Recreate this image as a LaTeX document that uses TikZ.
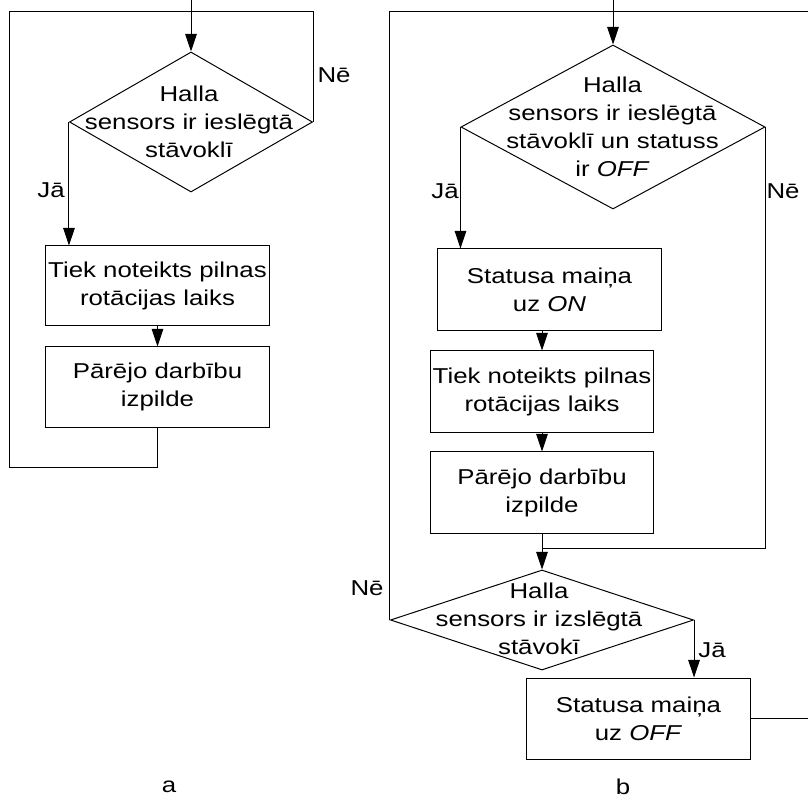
\documentclass[tikz,border=0pt]{standalone}
\usepackage{fontspec}
\setmainfont{Liberation Sans}[FakeStretch=1.2]
\usetikzlibrary{shapes.geometric,arrows.meta}

\begin{document}
\begin{tikzpicture}[x=0.025cm,y=-0.025cm,line width=0.7pt,
  every node/.style={font=\fontsize{15.3}{20}\selectfont},
  block/.style={draw,rectangle,minimum width=5.575cm,minimum height=2.025cm,align=center,inner sep=0pt},
  decision/.style={draw,diamond,inner sep=0pt},
  dtext/.style={align=center,inner sep=0pt},
  caption/.style={inner sep=1pt},
  arr/.style={-{Triangle[length=4.4mm,width=2.9mm]}}]

  \useasboundingbox (0,0) rectangle (808,800);

  % Scheme a
  \node[decision,minimum width=6.075cm,minimum height=3.5cm] (da) at (191,122) {};
  \node[dtext] (da-t) at (189,122) {Halla\\sensors ir ieslēgtā\\stāvoklī};
  \node[block,minimum height=1.975cm] (a1) at (157.5,285.5) {Tiek noteikts pilnas\\rotācijas laiks};
  \node[block,minimum height=2cm] (a2) at (157.5,387) {Pārējo darbību\\izpilde};
  \coordinate (a-in) at (191,0);

  \draw[arr] (a-in) -- (da.north);
  \draw[arr] (da.west) -- (da.west |- a1.north);
  \draw[arr] (a1.south) -- (a2.north);
  \draw (a2.south) -- ++(0,40) -| (9,11) -| (da.east);

  \node (a-ne) at (334,75) {Nē};
  \node (a-ja) at (51,190) {Jā};
  \node[caption] (a-cap) at (169,787) {a};

  % Scheme b
  \node[decision,minimum width=7.6cm,minimum height=4.1cm] (db1) at (613,127) {};
  \node[dtext] (db1-t) at (612.5,127) {Halla\\sensors ir ieslēgtā\\stāvoklī un statuss\\ir \textit{OFF}};
  \node[block] (b1) at (549.5,289.5) {Statusa maiņa\\uz \textit{ON}};
  \node[block] (b2) at (542,391.5) {Tiek noteikts pilnas\\rotācijas laiks};
  \node[block] (b3) at (542,492.5) {Pārējo darbību\\izpilde};
  \node[decision,minimum width=7.575cm,minimum height=2.5cm] (db2) at (542,620) {};
  \node[dtext] (db2-t) at (539,619) {Halla\\sensors ir izslēgtā\\stāvokī};
  \node[block] (b4) at (638.5,718.5) {Statusa maiņa\\uz \textit{OFF}};
  \coordinate (b-in) at (613,0);
  \coordinate (b-join) at (542,548);
  \coordinate (b-top) at (808,11);

  \draw[arr] (b-in) -- (db1.north);
  \draw[arr] (db1.west) -- (db1.west |- b1.north);
  \draw[arr] (b2.north |- b1.south) -- (b2.north);
  \draw[arr] (b2.south) -- (b3.north);
  \draw[arr] (b3.south) -- (db2.north);
  \draw (db1.east) |- (b-join);
  \draw[arr] (db2.east) -- (db2.east |- b4.north);
  \draw (db2.west) |- (b-top);
  \draw (b4.east) -- (b4.east -| b-top);

  \node (b-ja1) at (445,191) {Jā};
  \node (b-ne1) at (783,191) {Nē};
  \node (b-ne2) at (367,588) {Nē};
  \node (b-ja2) at (712,650) {Jā};
  \node[caption] (b-cap) at (623,787) {b};

\end{tikzpicture}
\end{document}
